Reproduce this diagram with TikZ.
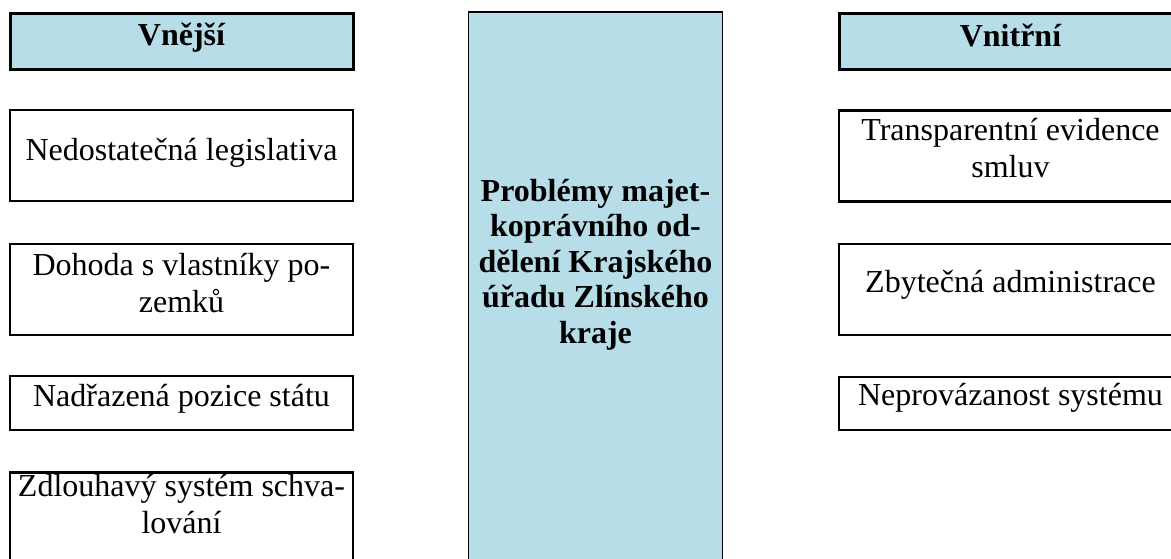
\documentclass[tikz,border=0pt]{standalone}
\usepackage{fontspec}
\setmainfont{Liberation Serif}
\definecolor{paleblue}{RGB}{183,221,232}

\begin{document}
\begin{tikzpicture}[
    % GLOBAL CFG
    x=1pt, y=-1pt,
    font=\fontsize{32}{36.8}\selectfont,
    % Styles
    head/.style={% For the column headers
        rectangle,
        draw,
        line width=3pt,
        fill=paleblue,
        minimum width=343pt,
        minimum height=56pt,
        inner sep=0pt,
        },
    item/.style={% For the single problems
        rectangle,
        draw,
        line width=2.2pt,
        minimum width=343pt,
        minimum height=91pt,
        inner sep=0pt,
        },
    core/.style={% For the main box in the middle
        rectangle,
        draw,
        line width=1.2pt,
        fill=paleblue,
        minimum width=254pt,
        minimum height=560pt,
        inner sep=0pt,
        },
    txt/.style={% plain box text, placed on its (last) baseline
        align=center,
        anchor=base,
        inner sep=0pt,
        },
    btxt/.style={% bold text
        txt,
        font=\fontsize{32}{35.5}\selectfont\bfseries,
        },
    ]

    \useasboundingbox (0,0) rectangle (1171,558);

    % Main box
    \node [core] (main) at (595.5,292) {};
    \node [btxt] (maintxt) at (595.5,343)
        {Problémy majet-\\koprávního od-\\dělení Krajského\\úřadu Zlínského\\kraje};

    % External side, named ext#
    \node [head] (exthead) at (181.5,41) {};
    \node [item] (ext1) at (181.5,155.5) {};
    \node [item] (ext2) at (181.5,289.5) {};
    \node [item, minimum height=54pt] (ext3) at (181.5,403) {};
    \node [item] (ext4) at (181.5,518) {};

    \node [btxt] (extheadtxt) at (181.5,45.5) {Vnější};
    \node [txt] (ext1txt) at (181.5,160) {Nedostatečná legislativa};
    \node [txt] (ext2txt) at (181.5,312) {Dohoda s vlastníky po-\\zemků};
    \node [txt] (ext3txt) at (181.5,406) {Nadřazená pozice státu};
    \node [txt] (ext4txt) at (181.5,533) {Zdlouhavý systém schva-\\lování};

    % Internal side, named int#
    \node [head] (inthead) at (1010.5,41) {};
    \node [item] (int1) at (1010.5,156) {};
    \node [item] (int2) at (1010.5,289.5) {};
    \node [item, minimum height=53pt] (int3) at (1010.5,403.5) {};

    \node [btxt] (intheadtxt) at (1010.5,46) {Vnitřní};
    \node [txt] (int1txt) at (1010.5,177.5) {Transparentní evidence\\smluv};
    \node [txt] (int2txt) at (1010.5,292) {Zbytečná administrace};
    \node [txt] (int3txt) at (1010.5,405) {Neprovázanost systému};

\end{tikzpicture}
\end{document}
